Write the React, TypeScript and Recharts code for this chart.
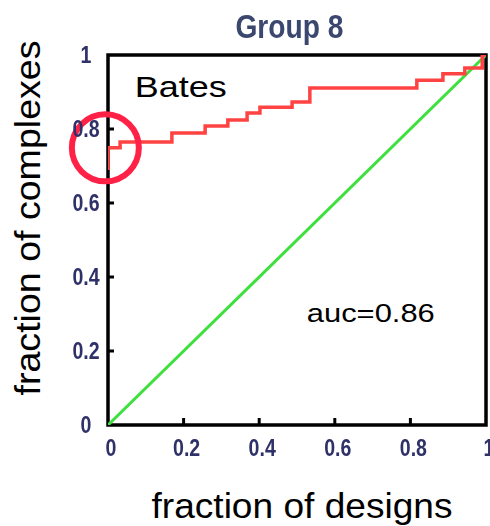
import React from 'react';
import { ComposedChart, Line, XAxis, YAxis, ReferenceArea, ReferenceDot, Label } from 'recharts';

// ROC staircase (Bates)
const redX = [0, 0, 0.032, 0.169, 0.257, 0.317, 0.368, 0.402, 0.487, 0.534, 0.817, 0.886, 0.944, 0.99, 1];
const redY = [0.689, 0.749, 0.765, 0.789, 0.808, 0.824, 0.843, 0.859, 0.873, 0.911, 0.932, 0.949, 0.965, 1, 1];
// random-classifier diagonal
const diagX = [0, 1];
const diagY = [0, 1];

const xTicks = [0, 0.2, 0.4, 0.6, 0.8, 1];
const xTickLabels = ['0', '0.2', '0.4', '0.6', '0.8', '1'];
const yTicks = [0, 0.2, 0.4, 0.6, 0.8, 1];
const yTickLabels = ['0', '0.2', '0.4', '0.6', '0.8', '1'];

const titleText = 'Group 8';
const xLabelText = 'fraction of designs';
const yLabelText = 'fraction of complexes';
const methodText = 'Bates';
const aucText = 'auc=0.86';

const titleAnchor = { x: 0.48, y: 1 };
const methodAnchor = { x: 0.071, y: 0.886 };
const aucAnchor = { x: 0.526, y: 0.278 };
const highlight = { x: -0.007, y: 0.749 };

const redRows = redX.map((x, i) => ({ x, y: redY[i] }));
const diagRows = diagX.map((x, i) => ({ x, y: diagY[i] }));

const FONT = '"Liberation Sans", Arial, Helvetica, sans-serif';
const TICK_COLOR = '#2f3068';
const X_OFF = 15;
const Y_OFF = 22;
const TICK_LEN = 7;

const XTick = (props: any) => {
  const { x, y, payload } = props;
  const i = xTicks.indexOf(payload.value);
  const label = i >= 0 ? xTickLabels[i] : String(payload.value);
  const inner = i > 0 && i < xTicks.length - 1;
  return (
    <g transform={`translate(${x},${y})`}>
      {inner && <line x1={0} x2={0} y1={-X_OFF} y2={-X_OFF - TICK_LEN} stroke="#000" strokeWidth={3} />}
      <g filter="url(#soft)">
        <text transform="translate(3,0) scale(0.85,1)" textAnchor="middle" dy="0.71em" fontSize={23} fontWeight={700} fill={TICK_COLOR} fontFamily={FONT}>
          {label}
        </text>
      </g>
    </g>
  );
};

const YTick = (props: any) => {
  const { x, y, payload } = props;
  const i = yTicks.indexOf(payload.value);
  const label = i >= 0 ? yTickLabels[i] : String(payload.value);
  const inner = i > 0 && i < yTicks.length - 1;
  return (
    <g transform={`translate(${x},${y})`}>
      {inner && <line x1={Y_OFF} x2={Y_OFF + TICK_LEN - 1} y1={0} y2={0} stroke="#000" strokeWidth={3} />}
      <g filter="url(#soft)">
        <text transform="scale(0.85,1)" textAnchor="middle" dy="0.36em" fontSize={23} fontWeight={700} fill={TICK_COLOR} fontFamily={FONT}>
          {label}
        </text>
      </g>
    </g>
  );
};

export default function App() {
  return (
    <div style={{ position: 'absolute', left: 0, top: 0, width: 490, height: 526, background: '#fff' }}>
      <svg width={0} height={0} style={{ position: 'absolute' }}>
        <defs>
          <filter id="soft" x="-20%" y="-20%" width="140%" height="140%">
            <feGaussianBlur stdDeviation="0.75" />
          </filter>
        </defs>
      </svg>
      <ComposedChart width={490} height={526} margin={{ top: 55, right: 4, left: 88, bottom: 81 }}>
        <XAxis
          dataKey="x"
          type="number"
          domain={[0, 1]}
          ticks={xTicks}
          height={20}
          interval={0}
          axisLine={false}
          tickSize={0}
          tickMargin={X_OFF}
          tickLine={false}
          tick={<XTick />}
          allowDataOverflow
        >
          <Label
            content={(p: any) => {
              const vb = p.viewBox;
              return (
                <text x={vb.x + vb.width / 2 + 5} y={vb.y + 93} textAnchor="middle" fontSize={35} fontFamily={FONT} fill="#000" textLength={301} lengthAdjust="spacingAndGlyphs">
                  {xLabelText}
                </text>
              );
            }}
          />
        </XAxis>
        <YAxis
          type="number"
          domain={[0, 1]}
          ticks={yTicks}
          width={20}
          interval={0}
          axisLine={false}
          tickSize={0}
          tickMargin={Y_OFF}
          tickLine={false}
          tick={<YTick />}
          allowDataOverflow
        >
          <Label
            content={(p: any) => {
              const vb = p.viewBox;
              const cx = vb.x + vb.width - 68;
              const cy = vb.y + vb.height / 2 - 22;
              return (
                <text x={cx} y={cy} transform={`rotate(-90,${cx},${cy})`} textAnchor="middle" fontSize={35} fontFamily={FONT} fill="#000" textLength={355} lengthAdjust="spacingAndGlyphs">
                  {yLabelText}
                </text>
              );
            }}
          />
        </YAxis>
        <ReferenceArea x1={0} x2={1} y1={0} y2={1} fill="none" fillOpacity={0} stroke="#000" strokeWidth={3.5} ifOverflow="visible" />
        <Line data={diagRows} dataKey="y" type="linear" stroke="#3ee03e" strokeWidth={3} dot={false} activeDot={false} isAnimationActive={false} />
        <Line data={redRows} dataKey="y" type="stepAfter" stroke="#ff4343" strokeWidth={3.5} dot={false} activeDot={false} isAnimationActive={false} />
        <ReferenceDot x={highlight.x} y={highlight.y} r={33.5} fill="none" stroke="#ff2246" strokeWidth={6} ifOverflow="visible" />
        <ReferenceDot x={methodAnchor.x} y={methodAnchor.y} r={0} fill="none" stroke="none" ifOverflow="visible">
          <Label
            content={(p: any) => (
              <text x={p.viewBox.x} y={p.viewBox.y} fontSize={30} fontFamily={FONT} fill="#000" textLength={92} lengthAdjust="spacingAndGlyphs">
                {methodText}
              </text>
            )}
          />
        </ReferenceDot>
        <ReferenceDot x={aucAnchor.x} y={aucAnchor.y} r={0} fill="none" stroke="none" ifOverflow="visible">
          <Label
            content={(p: any) => (
              <text x={p.viewBox.x} y={p.viewBox.y} fontSize={26} fontFamily={FONT} fill="#000" textLength={128} lengthAdjust="spacingAndGlyphs">
                {aucText}
              </text>
            )}
          />
        </ReferenceDot>
        <ReferenceDot x={titleAnchor.x} y={titleAnchor.y} r={0} fill="none" stroke="none" ifOverflow="visible">
          <Label
            content={(p: any) => (
              <text x={p.viewBox.x} y={p.viewBox.y - 17} textAnchor="middle" fontSize={33} fontWeight={700} fontFamily={FONT} fill="#3a476e" textLength={108} lengthAdjust="spacingAndGlyphs" filter="url(#soft)">
                {titleText}
              </text>
            )}
          />
        </ReferenceDot>
      </ComposedChart>
    </div>
  );
}
